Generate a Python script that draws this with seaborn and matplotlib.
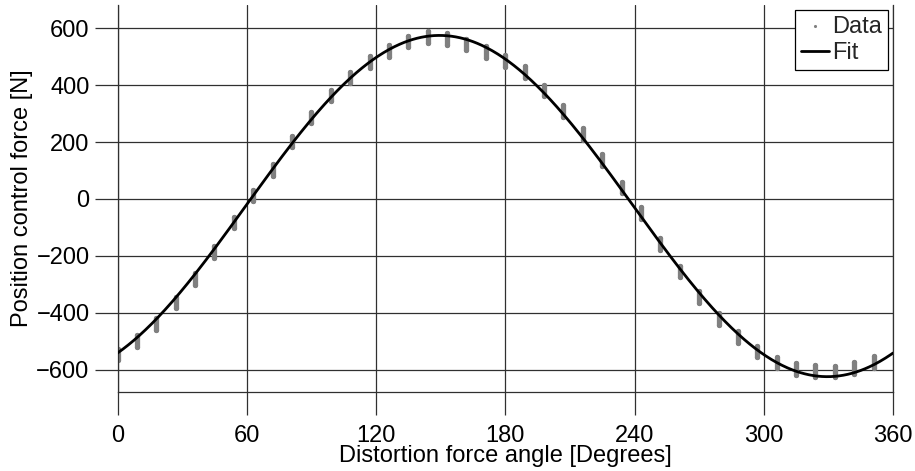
import numpy as np
import pandas as pd
import matplotlib
matplotlib.use("Agg")
import matplotlib.pyplot as plt
import seaborn as sns

# ---- data ----
angles = [0, 9, 18, 27, 36, 45, 54, 63, 72, 81, 90, 99, 108, 117, 126, 135, 144,
          153, 162, 171, 180, 189, 198, 207, 216, 225, 234, 243, 252, 261, 270,
          279, 288, 297, 306, 315, 324, 333, 342, 351]
data_max = [-526, -479, -419, -344, -261, -166, -62, 32, 123, 222, 307, 384, 447,
            501, 542, 573, 589, 582, 564, 538, 507, 467, 402, 330, 250, 157, 60,
            -30, -138, -235, -325, -402, -466, -516, -555, -578, -584, -589, -575,
            -554]
data_min = [-566, -519, -461, -385, -301, -208, -103, -9, 82, 181, 268, 343, 406,
            460, 500, 533, 548, 540, 523, 497, 465, 425, 362, 289, 209, 117, 20,
            -71, -180, -276, -366, -442, -507, -557, -596, -619, -625, -627, -616,
            -596]
# fitted sinusoid parameters
fit_offset = -25.0
fit_amplitude = 600.0
fit_phase = 59.5

xticks = [0, 60, 120, 180, 240, 300, 360]
yticks = [-600, -400, -200, 0, 200, 400, 600]

sns.set_theme(style="white")
plt.rcParams['font.family'] = ['Liberation Sans', 'DejaVu Sans']

W, H = 915, 471
fig = plt.figure(figsize=(W / 100, H / 100), dpi=100)
left, right, top, bottom = 117.5, 893.0, 5.0, 392.3
ax = fig.add_axes([left / W, 1 - bottom / H, (right - left) / W, (bottom - top) / H])

grid_c = '#303030'
data_c = '#808080'

# clusters of data points
df = pd.DataFrame({
    'angle': list(angles) * 2,
    'force': list(data_min) + list(data_max),
})
ax.vlines(angles, data_min, data_max, colors=data_c, linewidth=3.8,
          capstyle='round', zorder=2)
sns.scatterplot(data=df, x='angle', y='force', ax=ax, color=data_c, s=14,
                linewidth=0, label='Data', zorder=2)

# fit curve
fx = np.linspace(0, 360, 721)
fy = fit_offset + fit_amplitude * np.sin(np.radians(fx - fit_phase))
sns.lineplot(x=fx, y=fy, ax=ax, color='black', linewidth=2.0, label='Fit',
             zorder=3, sort=False)

ax.set_xlim(0, 360)
ax.set_ylim(-680, 682)
ax.set_xticks(xticks)
ax.set_yticks(yticks)
ax.grid(True, color=grid_c, linewidth=0.9)
ax.set_axisbelow(True)

for s in ['left', 'right', 'bottom']:
    ax.spines[s].set_color(grid_c)
    ax.spines[s].set_linewidth(0.9)
ax.spines['top'].set_visible(False)

ax.tick_params(axis='both', which='major', length=16.5, width=0.9, color=grid_c,
               direction='out', labelsize=17, labelcolor='black')
ax.tick_params(axis='x', pad=7.2, bottom=True)
ax.tick_params(axis='y', pad=3.6, left=True)

ax.set_xlabel('Distortion force angle [Degrees]', fontsize=17, labelpad=-1.3,
              color='black')
ax.set_ylabel('Position control force [N]', fontsize=17, labelpad=2.4,
              color='black')

leg = ax.legend(loc='upper right', fontsize=17, frameon=True, fancybox=False,
                framealpha=1, edgecolor='black', borderaxespad=0.2,
                borderpad=0.25, labelspacing=0.2, handlelength=1.2,
                handletextpad=0.15, markerscale=0.6)
leg.get_frame().set_linewidth(0.9)

fig.savefig('out.png', dpi=100)
